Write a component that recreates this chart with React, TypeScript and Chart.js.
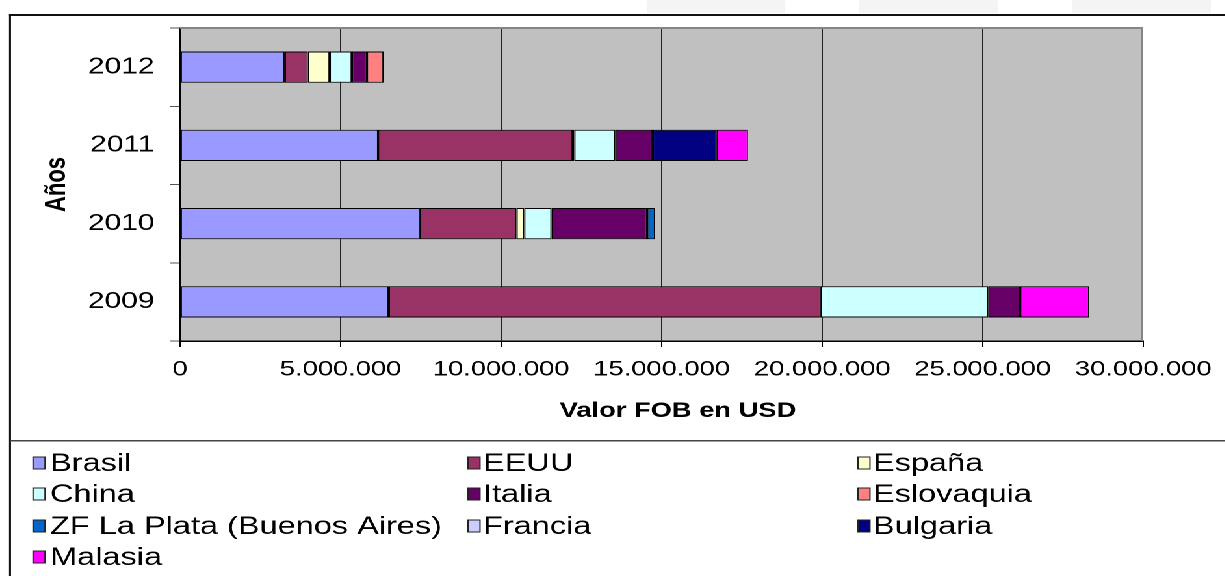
import { useEffect, useRef } from 'react';
import { Chart, registerables } from 'chart.js';

Chart.register(...registerables);

// ---- data ----
const years = ['2009', '2010', '2011', '2012'];
const countries = ['Brasil', 'EEUU', 'España', 'China', 'Italia', 'Eslovaquia', 'ZF La Plata (Buenos Aires)', 'Francia', 'Bulgaria', 'Malasia'];
const colors = ['#9999FF', '#993366', '#FFFFCC', '#CCFFFF', '#660066', '#FF8080', '#0066CC', '#CCCCFF', '#000080', '#FF00FF'];
const brasil = [6500000, 7470000, 6170000, 3260000];
const eeuu = [13460000, 3010000, 6060000, 720000];
const espana = [null, 240000, 50000, 680000];
const china = [5220000, 850000, 1280000, 690000];
const italia = [990000, 2980000, 1160000, 470000];
const eslovaquia = [null, null, null, 520000];
const zfLaPlata = [null, 250000, null, null];
const francia = [null, null, null, null];
const bulgaria = [null, null, 2000000, null];
const malasia = [2150000, null, 970000, null];
const seriesValues = [brasil, eeuu, espana, china, italia, eslovaquia, zfLaPlata, francia, bulgaria, malasia];
const xTickLabels = ['0', '5.000.000', '10.000.000', '15.000.000', '20.000.000', '25.000.000', '30.000.000'];
const xTitle = 'Valor FOB en USD';
const yTitle = 'Años';

// ---- layout (page px) ----
const SX = 1.3;
const CW = 942;
const CH = 576;
const px = (x: number) => x / SX;
const FONT = '"Liberation Sans", Arial, sans-serif';
const PLOT_LEFT = 180;
const PLOT_RIGHT = 1145;
const PLOT_TOP = 28;
const PLOT_BOTTOM = 341;
const XAXIS_BOTTOM = 424;

const legendColX = [33, 468, 858];
const legendTextX = [50, 483, 873];
const legendRowY = [463, 494, 526, 557];

const decor = {
  id: 'decor',
  beforeDraw(chart: any) {
    const { ctx, chartArea: a } = chart;
    ctx.save();
    ctx.fillStyle = '#ffffff';
    ctx.fillRect(0, 0, chart.width, chart.height);
    ctx.fillStyle = '#f4f4f4';
    [[647, 785], [859, 998], [1072, 1211]].forEach(([x0, x1]) => {
      ctx.fillRect(px(x0), 0, px(x1) - px(x0), 13);
    });
    ctx.fillStyle = '#c0c0c0';
    ctx.fillRect(a.left, a.top, a.right - a.left, a.bottom - a.top);
    ctx.restore();
  },
  afterDraw(chart: any) {
    const { ctx, chartArea: a } = chart;
    ctx.save();
    // plot area border (top/right)
    ctx.fillStyle = '#858585';
    ctx.fillRect(a.left, a.top - 1, a.right - a.left, 2);
    ctx.fillRect(a.right - px(2), a.top - 1, px(2), a.bottom - a.top + 1);
    // outer chart border
    ctx.fillStyle = '#111111';
    ctx.fillRect(px(9), 14, CW, 2);
    ctx.fillRect(px(9), 14, px(2), CH);
    // x axis title
    ctx.fillStyle = '#000';
    ctx.font = `bold 21px ${FONT}`;
    ctx.textAlign = 'center';
    ctx.textBaseline = 'middle';
    ctx.fillText(xTitle, px(678), 411);
    // legend box
    ctx.fillStyle = '#444444';
    ctx.fillRect(px(10), 440, CW, 1.5);
    // legend items
    ctx.font = `25px ${FONT}`;
    ctx.textBaseline = 'middle';
    ctx.textAlign = 'left';
    chart.data.datasets.forEach((ds: any, i: number) => {
      const c = i % 3;
      const r = Math.floor(i / 3);
      const x = px(legendColX[c]);
      const y = legendRowY[r];
      ctx.fillStyle = ds.backgroundColor;
      ctx.fillRect(x, y - 6, px(12), 12);
      ctx.strokeStyle = '#222';
      ctx.lineWidth = 1;
      ctx.strokeRect(x, y - 6, px(12), 12);
      ctx.fillStyle = '#000';
      ctx.fillText(ds.label, px(legendTextX[c]), y + 1);
    });
    ctx.restore();
  },
};

export default function App() {
  const ref = useRef<HTMLCanvasElement | null>(null);
  useEffect(() => {
    if (!ref.current) return;
    const chart = new Chart(ref.current, {
      type: 'bar',
      data: {
        labels: years,
        datasets: countries.map((name, i) => ({
          label: name,
          data: seriesValues[i],
          backgroundColor: colors[i],
          borderColor: '#000',
          borderWidth: 1,
          borderSkipped: false,
          barPercentage: 0.4,
          categoryPercentage: 1,
        })),
      },
      options: {
        indexAxis: 'y',
        responsive: false,
        animation: false,
        devicePixelRatio: 2,
        layout: {
          padding: { top: PLOT_TOP, left: 0, right: CW - px(PLOT_RIGHT), bottom: CH - XAXIS_BOTTOM },
        },
        plugins: { legend: { display: false }, tooltip: { enabled: false }, title: { display: false } },
        scales: {
          x: {
            stacked: true,
            min: 0,
            max: 30000000,
            ticks: {
              stepSize: 5000000,
              color: '#000',
              font: { family: FONT, size: 21 },
              padding: 10,
              maxRotation: 0,
              autoSkip: false,
              callback: (_v: any, i: number) => xTickLabels[i],
            },
            grid: {
              color: (c: any) => (c.index === 6 ? 'rgba(0,0,0,0)' : '#222222'),
              tickColor: '#000',
              tickLength: 6,
              lineWidth: 1,
            },
            border: { color: '#000', width: 1.5 },
            title: { display: false },
            afterFit: (s: any) => {
              s.height = XAXIS_BOTTOM - PLOT_BOTTOM;
            },
          },
          y: {
            stacked: true,
            reverse: true,
            ticks: {
              color: '#000',
              font: { family: FONT, size: 23 },
              padding: 12,
            },
            grid: {
              drawOnChartArea: false,
              drawTicks: true,
              tickLength: px(10),
              tickColor: '#555',
              offset: true,
            },
            border: { color: '#000', width: 1 },
            title: {
              display: true,
              text: yTitle,
              color: '#000',
              font: { family: FONT, size: 22, weight: 'bold' },
              padding: { top: px(57) - 13.2, bottom: 0 },
            },
            afterFit: (s: any) => {
              s.width = px(PLOT_LEFT);
            },
          },
        },
      },
      plugins: [decor],
    });
    return () => chart.destroy();
  }, []);

  return (
    <div
      style={{
        position: 'absolute',
        left: 0,
        top: 0,
        width: CW,
        height: CH,
        overflow: 'hidden',
        transform: `scaleX(${SX})`,
        transformOrigin: '0 0',
        background: '#fff',
      }}
    >
      <canvas ref={ref} width={CW} height={CH} style={{ display: 'block' }} />
    </div>
  );
}
